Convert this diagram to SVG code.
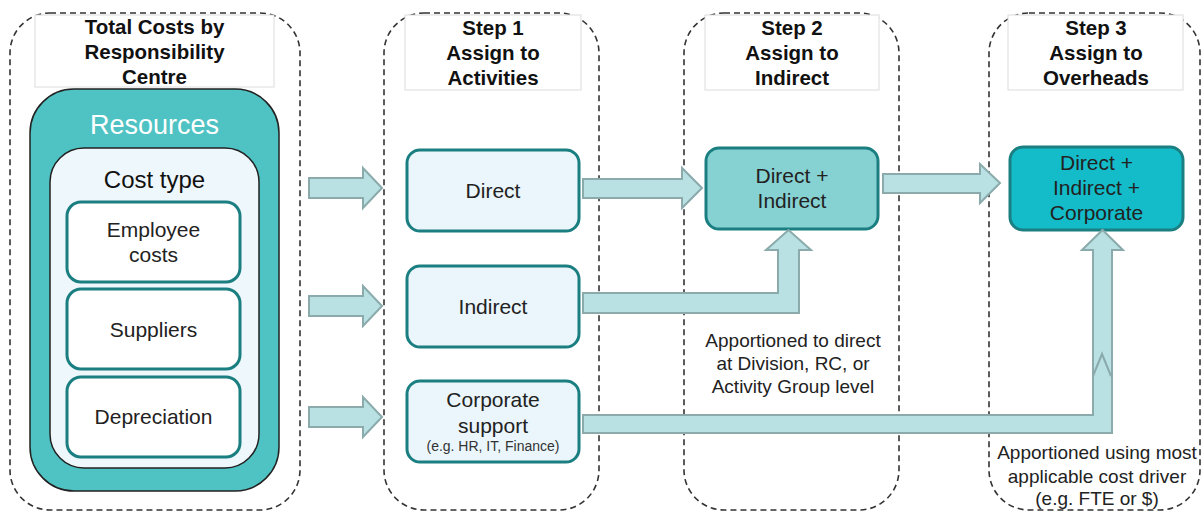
<svg xmlns="http://www.w3.org/2000/svg" width="1203" height="513" viewBox="0 0 1203 513">
<style>
.lane{fill:none;stroke:#333;stroke-width:1.6;stroke-dasharray:6 4}
.title{fill:#fff;stroke:#dcdcdc;stroke-width:1}
.ht{font-family:"Liberation Sans",Arial,sans-serif;font-weight:bold;font-size:20.5px;fill:#111;text-anchor:middle}
.t{font-family:"Liberation Sans",Arial,sans-serif;font-size:21px;fill:#222;text-anchor:middle}
.note{font-family:"Liberation Sans",Arial,sans-serif;font-size:19px;fill:#222;text-anchor:middle}
.box{stroke:#1b7f82;stroke-width:3}
.arr{fill:#b9e0e3;stroke:#8aaaac;stroke-width:2;stroke-linejoin:miter}
</style>
<rect width="1203" height="513" fill="#fff"/>

<g id="lane-rc">
<rect class="lane" x="10" y="13" width="290" height="497" rx="40"/>
<rect class="title" x="35" y="15" width="239" height="72"/>
<text class="ht" x="154.5" y="34">Total Costs by</text>
<text class="ht" x="154.5" y="59">Responsibility</text>
<text class="ht" x="154.5" y="84">Centre</text>
</g>
<g id="lane-step1">
<rect class="lane" x="384" y="13" width="215" height="497" rx="40"/>
<rect class="title" x="405" y="15" width="176" height="75"/>
<text class="ht" x="493" y="35">Step 1</text>
<text class="ht" x="493" y="60">Assign to</text>
<text class="ht" x="493" y="85">Activities</text>
</g>
<g id="lane-step2">
<rect class="lane" x="684" y="13" width="215" height="497" rx="40"/>
<rect class="title" x="705" y="15" width="174" height="75"/>
<text class="ht" x="792" y="35">Step 2</text>
<text class="ht" x="792" y="60">Assign to</text>
<text class="ht" x="792" y="85">Indirect</text>
</g>
<g id="lane-step3">
<rect class="lane" x="989" y="13" width="211" height="497" rx="40"/>
<rect class="title" x="1008" y="15" width="175" height="75"/>
<text class="ht" x="1096" y="35">Step 3</text>
<text class="ht" x="1096" y="60">Assign to</text>
<text class="ht" x="1096" y="85">Overheads</text>
</g>

<g id="resources">
<rect x="30" y="89" width="249" height="402" rx="44" fill="#4fc3c3" stroke="#222" stroke-width="1.5"/>
<text x="154.5" y="134" font-family="'Liberation Sans',Arial,sans-serif" font-size="27px" fill="#fff" text-anchor="middle">Resources</text>
</g>
<g id="cost-type">
<rect x="50" y="148" width="209" height="320" rx="34" fill="#eef7fc" stroke="#222" stroke-width="1.5"/>
<text x="154.5" y="188" font-family="'Liberation Sans',Arial,sans-serif" font-size="24px" fill="#111" text-anchor="middle">Cost type</text>
</g>
<g id="employee-costs">
<rect class="box" x="67" y="202" width="173" height="80" rx="14" fill="#fff"/>
<text class="t" x="153.5" y="237">Employee</text>
<text class="t" x="153.5" y="262">costs</text>
</g>
<g id="suppliers">
<rect class="box" x="67" y="289" width="173" height="80" rx="14" fill="#fff"/>
<text class="t" x="153.5" y="337">Suppliers</text>
</g>
<g id="depreciation">
<rect class="box" x="67" y="377" width="173" height="80" rx="14" fill="#fff"/>
<text class="t" x="153.5" y="424">Depreciation</text>
</g>

<g id="direct">
<rect class="box" x="407" y="150" width="172" height="81" rx="13" fill="#eaf6fb"/>
<text class="t" x="493" y="198">Direct</text>
</g>
<g id="indirect">
<rect class="box" x="407" y="266" width="172" height="81" rx="13" fill="#eaf6fb"/>
<text class="t" x="493" y="314">Indirect</text>
</g>
<g id="corporate-support">
<rect class="box" x="407" y="381" width="172" height="81" rx="13" fill="#eaf6fb"/>
<text class="t" x="493" y="407">Corporate</text>
<text class="t" x="493" y="433">support</text>
<text x="493" y="451" font-family="'Liberation Sans',Arial,sans-serif" font-size="14px" fill="#333" text-anchor="middle">(e.g. HR, IT, Finance)</text>
</g>
<g id="direct-indirect">
<rect class="box" x="706" y="148" width="172" height="81" rx="13" fill="#86d2d3"/>
<text class="t" x="792" y="183">Direct +</text>
<text class="t" x="792" y="208">Indirect</text>
</g>
<g id="direct-indirect-corporate">
<rect class="box" x="1010" y="147" width="173" height="83" rx="13" fill="#13bcc8"/>
<text class="t" x="1096.5" y="170">Direct +</text>
<text class="t" x="1096.5" y="195">Indirect +</text>
<text class="t" x="1096.5" y="220">Corporate</text>
</g>

<g id="notes">
<text class="note" x="793" y="347">Apportioned to direct</text>
<text class="note" x="793" y="370">at Division, RC, or</text>
<text class="note" x="793" y="393">Activity Group level</text>
<text class="note" x="1097" y="459">Apportioned using most</text>
<text class="note" x="1097" y="483">applicable cost driver</text>
<text class="note" x="1097" y="505">(e.g. FTE or $)</text>
</g>

<g id="connectors">
<polygon class="arr" points="309,178 363,178 363,168 382,188 363,208 363,198 309,198"/>
<polygon class="arr" points="309,296 363,296 363,286 382,306 363,326 363,316 309,316"/>
<polygon class="arr" points="309,407 363,407 363,397 382,417 363,437 363,427 309,427"/>
<polygon class="arr" points="583,179 682,179 682,168 702,188 682,208 682,198 583,198"/>
<polygon class="arr" points="883,174 980,174 980,164 1000,183 980,203 980,193 883,193"/>
<polygon class="arr" points="583,293 778,293 778,250 766,250 788.5,230 811,250 799,250 799,313 583,313"/>
<polygon class="arr" points="583,415 1093,415 1093,250 1082,250 1102.5,230 1123,250 1112,250 1112,433 583,433"/>
<polyline points="1093,376 1102,354 1111,376" fill="none" stroke="#8aaaac" stroke-width="2"/>
</g>
</svg>
